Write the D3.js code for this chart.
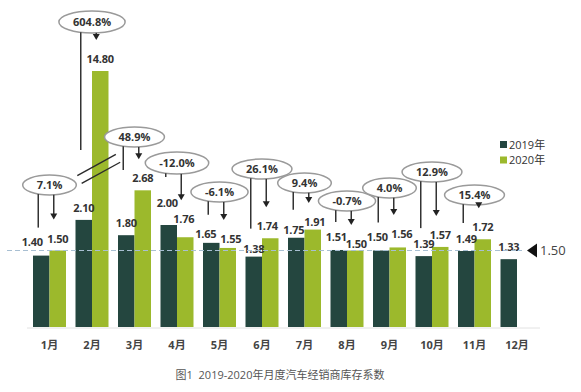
<!DOCTYPE html>
<html>
<head>
<meta charset="utf-8">
<script src="https://cdn.jsdelivr.net/npm/d3@7"></script>
<style>
  html, body { margin: 0; padding: 0; background: #fff; }
  svg text { font-family: 'Open Sans', 'Noto Sans CJK SC', sans-serif; }
</style>
</head>
<body>
<svg id="chart" width="581" height="392"></svg>
<script>
(function() {

  'use strict';

  var months = ['1月', '2月', '3月', '4月', '5月', '6月', '7月', '8月', '9月', '10月', '11月', '12月'];
  var stock2019 = [1.40, 2.10, 1.80, 2.00, 1.65, 1.38, 1.75, 1.51, 1.50, 1.39, 1.49, 1.33];
  var stock2020 = [1.50, 14.80, 2.68, 1.76, 1.55, 1.74, 1.91, 1.50, 1.56, 1.57, 1.72, null];
  var yoyLabels = ['7.1%', '604.8%', '48.9%', '-12.0%', '-6.1%', '26.1%', '9.4%', '-0.7%', '4.0%', '12.9%', '15.4%', null];
  var seriesNames = ['2019年', '2020年'];
  var benchmark = 1.5;
  var title = '图1  2019-2020年月度汽车经销商库存系数';

  // hand placed callouts (pixel y of each bubble), like the original
  var calloutY = [185, 22, 137, 163, 192, 169, 183, 201, 188, 172, 195];
  var stemStop = { 1: 150, 2: 170, 3: 177 };
  // label nudges [dx, dy] keyed series-month, to dodge the stems like the original
  var labelNudge = {
    '0-0': [-9, -2], '0-3': [-1.5, -10], '0-4': [-5.5, 3], '0-5': [0, 4.5], '0-6': [-2.5, 4],
    '0-7': [-2.5, -1], '0-8': [-4, -1.5],
    '1-3': [-1.5, -6], '1-4': [3, 3], '1-5': [-3, 0], '1-6': [2, 4.5], '1-7': [1, 5.5], '1-8': [4, -1.5]
  };

  var COLORS = ['#24463f', '#9cb92c'];
  var BASE = 327;

  var svg = d3.select('#chart');

  var x = d3.scaleBand()
    .domain(months)
    .range([33, 533.5])
    .paddingInner(0.2235)
    .paddingOuter(0);

  var xs = d3.scaleBand()
    .domain([0, 1])
    .range([0, x.bandwidth()]);

  // broken axis: linear up to the break, squeezed above it
  var y = d3.scaleLinear()
    .domain([0, 3.1, 14.8])
    .range([BASE, BASE - 3.1 * 51, 71]);

  var rows = months.map(function(m, i) {
    return { month: m, index: i, values: [stock2019[i], stock2020[i]], yoy: yoyLabels[i] };
  });

  var cells = function(d) {
    return d.values.map(function(v, s) { return { v: v, s: s, i: d.index }; })
      .filter(function(e) { return e.v != null; });
  };

  var nudge = function(e, k) {
    var n = labelNudge[e.s + '-' + e.i];
    return n ? n[k] : 0;
  };

  // baseline
  svg.append('line')
    .attr('x1', 27).attr('x2', 540)
    .attr('y1', BASE + 1).attr('y2', BASE + 1)
    .attr('stroke', '#e2e2e2')
    .attr('stroke-width', 1);

  var groups = svg.selectAll('g.month')
    .data(rows)
    .enter()
    .append('g')
    .classed('month', true)
    .attr('transform', function(d) { return 'translate(' + x(d.month) + ',0)'; });

  groups.selectAll('rect')
    .data(cells)
    .enter()
    .append('rect')
    .attr('x', function(e) { return xs(e.s); })
    .attr('width', xs.bandwidth())
    .attr('y', function(e) { return y(e.v); })
    .attr('height', function(e) { return BASE - y(e.v); })
    .attr('fill', function(e) { return COLORS[e.s]; });

  // break marks across the tall February bar
  var feb = rows[1];
  var bx = x(feb.month) + xs(1) + xs.bandwidth() / 2 - 1.5;
  var by = y(3.1);
  var ang = Math.atan2(-22, 40);
  var half = 22;
  [-4.5, 4.5].forEach(function(off) {
    var ox = -Math.sin(ang) * off;
    var oy = Math.cos(ang) * off;
    svg.append('line')
      .attr('x1', bx - Math.cos(ang) * half + ox)
      .attr('y1', by - Math.sin(ang) * half + oy)
      .attr('x2', bx + Math.cos(ang) * half + ox)
      .attr('y2', by + Math.sin(ang) * half + oy)
      .attr('stroke', '#2b2b2b')
      .attr('stroke-width', 1.4);
  });

  // benchmark line
  svg.append('line')
    .attr('x1', 7).attr('x2', 522)
    .attr('y1', y(benchmark)).attr('y2', y(benchmark))
    .attr('stroke', '#a8bfd2')
    .attr('stroke-width', 1.2)
    .attr('stroke-dasharray', '5,3');

  svg.append('path')
    .attr('d', 'M527,' + y(benchmark) + 'L537,' + (y(benchmark) - 7) + 'L537,' + (y(benchmark) + 7) + 'Z')
    .attr('fill', '#111');

  svg.append('text')
    .attr('x', 540)
    .attr('y', y(benchmark) + 4.5)
    .attr('font-size', 13)
    .attr('fill', '#444')
    .text(benchmark.toFixed(2));

  // value labels
  groups.selectAll('text.value')
    .data(cells)
    .enter()
    .append('text')
    .classed('value', true)
    .attr('x', function(e) { return xs(e.s) + xs.bandwidth() / 2 + nudge(e, 0); })
    .attr('y', function(e) { return y(e.v) - 8 + nudge(e, 1); })
    .attr('text-anchor', 'middle')
    .attr('font-size', 11)
    .attr('font-weight', 'bold')
    .attr('letter-spacing', -0.2)
    .attr('fill', '#333')
    .text(function(e) { return e.v.toFixed(2); });

  // month labels
  svg.selectAll('text.tick')
    .data(months)
    .enter()
    .append('text')
    .classed('tick', true)
    .attr('x', function(m) { return x(m) + x.bandwidth() / 2; })
    .attr('y', 349)
    .attr('text-anchor', 'middle')
    .attr('font-size', 11)
    .attr('font-weight', 'bold')
    .attr('fill', '#444')
    .text(function(m) { return m; });

  // year-on-year callouts
  rows.filter(function(d) { return d.yoy; }).forEach(function(d) {
    var g = svg.append('g').classed('callout', true);
    var cx = x(d.month) + x.bandwidth() / 2;
    var cy = calloutY[d.index];
    var ry = d.yoy.length > 5 ? 11 : 10;

    var label = g.append('text')
      .attr('x', cx)
      .attr('y', cy + 4)
      .attr('text-anchor', 'middle')
      .attr('font-size', 11)
      .attr('font-weight', 'bold')
      .attr('fill', '#333')
      .text(d.yoy);

    var rx = label.node().getComputedTextLength() / 2 + 14;

    g.insert('ellipse', 'text')
      .attr('cx', cx).attr('cy', cy)
      .attr('rx', rx).attr('ry', ry)
      .attr('fill', '#fff')
      .attr('stroke', '#9a9a9a')
      .attr('stroke-width', 1.5);

    var edge = function(sx) {
      var t = (sx - cx) / rx;
      return cy + ry * Math.sqrt(Math.max(0, 1 - t * t));
    };

    // 2019 stem, no head
    var lx = x(d.month) + xs(0) + xs.bandwidth() / 2 - 3;
    var lEnd = stemStop[d.index] != null ? stemStop[d.index] : y(d.values[0]) - 28;
    g.append('line')
      .attr('x1', lx).attr('x2', lx)
      .attr('y1', edge(lx)).attr('y2', lEnd)
      .attr('stroke', '#333')
      .attr('stroke-width', 1.5);

    // 2020 arrow, stops just above its label
    var ax = x(d.month) + xs(1) + xs.bandwidth() / 2 - 4;
    var aEnd = y(d.values[1]) - 12 + nudge({ s: 1, i: d.index }, 1) - 19;
    g.append('line')
      .attr('x1', ax).attr('x2', ax)
      .attr('y1', edge(ax)).attr('y2', aEnd - 5)
      .attr('stroke', '#333')
      .attr('stroke-width', 1.5);
    g.append('path')
      .attr('d', 'M' + (ax - 3.5) + ',' + (aEnd - 6) + 'L' + (ax + 3.5) + ',' + (aEnd - 6) + 'L' + ax + ',' + aEnd + 'Z')
      .attr('fill', '#222');
  });

  // legend
  var legend = svg.append('g').attr('transform', 'translate(500,141)');
  seriesNames.forEach(function(name, i) {
    legend.append('rect')
      .attr('x', 0).attr('y', i * 15.5)
      .attr('width', 7).attr('height', 7)
      .attr('fill', COLORS[i]);
    legend.append('text')
      .attr('x', 9).attr('y', i * 15.5 + 7.5)
      .attr('font-size', 11)
      .attr('fill', '#333')
      .text(name);
  });

  svg.append('text')
    .attr('x', 280)
    .attr('y', 379)
    .attr('text-anchor', 'middle')
    .attr('font-size', 11)
    .attr('fill', '#555')
    .style('white-space', 'pre')
    .text(title);

})();
</script>
</body>
</html>
